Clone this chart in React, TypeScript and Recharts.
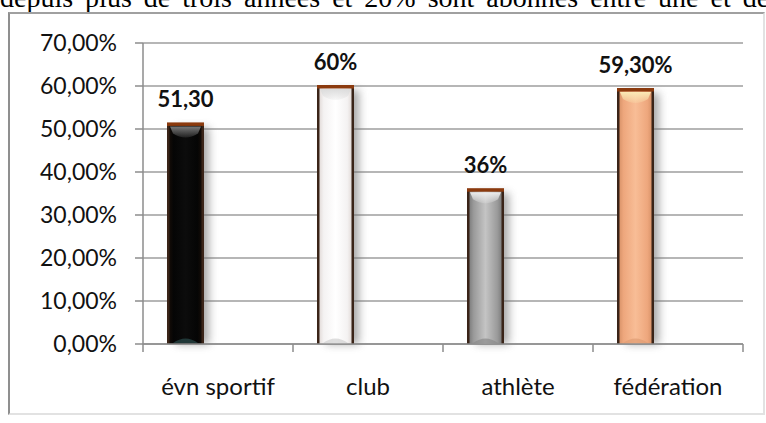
import React from 'react';
import { BarChart, Bar, XAxis, YAxis, CartesianGrid, LabelList } from 'recharts';

// Chart data
const categories = ['évn sportif', 'club', 'athlète', 'fédération'];
const values = [51.3, 60, 36, 59.3];
const valueLabels = ['51,30', '60%', '36%', '59,30%'];
const yTicks = [0, 10, 20, 30, 40, 50, 60, 70];

const data = categories.map((name, i) => ({ name, value: values[i], label: valueLabels[i] }));

// Cylinder-like palettes for each bar
const palettes = [
  { edge: '#1a0f08', mid: '#050505', center: '#0c0c0c', bevel: '#7a7a7a', foot: '#2a4a4a' },
  { edge: '#d9cfcb', mid: '#f4f2f2', center: '#ffffff', bevel: '#dcdcdc', foot: '#d0d0d0' },
  { edge: '#6f6f6f', mid: '#9a9a9a', center: '#c4c4c4', bevel: '#eeeeee', foot: '#8a8a8a' },
  { edge: '#cf8a60', mid: '#eea77d', center: '#f8bd96', bevel: '#fbeab6', foot: '#e09c74' },
];

const FONT = 'Lato, "Open Sans", sans-serif';
const CHART_W = 766;
const CHART_H = 423;
const MARGIN = { top: 43, right: 23, bottom: 0, left: 0 };
const Y_AXIS_W = 143;
const X_AXIS_H = 79;
const PLOT_W = CHART_W - MARGIN.left - MARGIN.right - Y_AXIS_W;
const HALF_BAND = PLOT_W / categories.length / 2;
const BAR_SIZE = 37;
const BAR_SHIFT = 33; // bars sit left of the category centre
const LABEL_GAP = 16;

function CylinderBar(props: any) {
  const { x, y, width, height, index } = props;
  const p = palettes[index % palettes.length];
  const bx = x - BAR_SHIFT;
  const w = width;
  const id = `cyl${index}`;
  return (
    <g>
      <defs>
        <linearGradient id={`${id}body`} x1="0" y1="0" x2="1" y2="0">
          <stop offset="0" stopColor={p.edge} />
          <stop offset="0.18" stopColor={p.mid} />
          <stop offset="0.5" stopColor={p.center} />
          <stop offset="0.82" stopColor={p.mid} />
          <stop offset="1" stopColor={p.edge} />
        </linearGradient>
        <linearGradient id={`${id}bevel`} x1="0" y1="0" x2="0" y2="1">
          <stop offset="0" stopColor={p.bevel} stopOpacity="1" />
          <stop offset="1" stopColor={p.bevel} stopOpacity="0.2" />
        </linearGradient>
        <filter id={`${id}shadow`} x="-60%" y="-10%" width="220%" height="120%">
          <feGaussianBlur stdDeviation="4" />
        </filter>
      </defs>
      {/* soft drop shadow on the right */}
      <rect x={bx + 9} y={y + 4} width={w - 4} height={height - 4} fill="#707070" opacity={0.6} filter={`url(#${id}shadow)`} />
      {/* body */}
      <rect x={bx} y={y} width={w} height={height} fill={`url(#${id}body)`} />
      {/* top bevel highlight */}
      <path
        d={`M${bx + 3},${y + 3} L${bx + w - 3},${y + 3} L${bx + w - 6},${y + 10} Q${bx + w / 2},${y + 18} ${bx + 6},${y + 10} Z`}
        fill={`url(#${id}bevel)`}
      />
      {/* foot highlight */}
      <path
        d={`M${bx + 6},${y + height - 1} Q${bx + w / 2},${y + height - 10} ${bx + w - 6},${y + height - 1} Z`}
        fill={p.foot}
        opacity={0.7}
      />
      {/* dark side edges */}
      <rect x={bx} y={y} width={2.5} height={height} fill="#3a2418" />
      <rect x={bx + w - 2.5} y={y} width={2.5} height={height} fill="#3a2418" />
      {/* brown top cap */}
      <rect x={bx} y={y - 1} width={w} height={3.5} fill="#8b3a0e" />
    </g>
  );
}

function ValueLabel(props: any) {
  const { x, y, width, index } = props;
  return (
    <text
      x={x - BAR_SHIFT + width / 2}
      y={y - LABEL_GAP}
      textAnchor="middle"
      fontFamily={FONT}
      fontWeight={700}
      fontSize={22}
      fill="#111"
    >
      {valueLabels[index]}
    </text>
  );
}

function CategoryTick(props: any) {
  const { x, y, payload, index } = props;
  const axisY = y - 8;
  const last = index === categories.length - 1;
  return (
    <g>
      <line x1={x - HALF_BAND} y1={axisY} x2={x - HALF_BAND} y2={axisY + 8} stroke="#8c8c8c" strokeWidth={1.5} />
      {last && (
        <line x1={x + HALF_BAND} y1={axisY} x2={x + HALF_BAND} y2={axisY + 8} stroke="#8c8c8c" strokeWidth={1.5} />
      )}
      <text x={x} y={y + 43} textAnchor="middle" fontFamily={FONT} fontSize={24} fill="#111">
        {payload.value}
      </text>
    </g>
  );
}

const formatPercent = (v: number) => `${v},00%`;

export default function App() {
  return (
    <div style={{ position: 'fixed', left: 0, top: 0, width: CHART_W, height: CHART_H, background: '#fff', overflow: 'hidden' }}>
      <div
        style={{
          position: 'absolute',
          left: 0,
          top: -16,
          fontFamily: '"Liberation Serif", "Times New Roman", serif',
          fontSize: 28,
          lineHeight: '28px',
          wordSpacing: 5,
          whiteSpace: 'nowrap',
          color: '#000',
        }}
      >
        depuis plus de trois années et 20% sont abonnés entre une et deux
      </div>
      <div
        style={{
          position: 'absolute',
          left: 8,
          top: 12,
          width: 753,
          height: 399,
          background: '#fff',
          borderLeft: '2px solid #8f8f8f',
          borderTop: '2px solid #a0a0a0',
          borderRight: '2px solid #e2e2e2',
          borderBottom: '2px solid #e2e2e2',
        }}
      />
      <div style={{ position: 'absolute', left: 0, top: 0 }}>
        <BarChart width={CHART_W} height={CHART_H} data={data} margin={MARGIN} barSize={BAR_SIZE}>
          <CartesianGrid vertical={false} stroke="#9e9e9e" strokeWidth={1.5} />
          <XAxis
            dataKey="name"
            height={X_AXIS_H}
            tickLine={false}
            axisLine={{ stroke: '#8c8c8c', strokeWidth: 1.5 }}
            tick={<CategoryTick />}
            interval={0}
          />
          <YAxis
            width={Y_AXIS_W}
            domain={[0, 70]}
            ticks={yTicks}
            tickFormatter={formatPercent}
            tickSize={8}
            tickMargin={18}
            tickLine={{ stroke: '#8c8c8c', strokeWidth: 1.5 }}
            axisLine={{ stroke: '#8c8c8c', strokeWidth: 1.5 }}
            tick={{ fontFamily: FONT, fontSize: 23, fill: '#111' }}
          />
          <Bar dataKey="value" shape={<CylinderBar />} isAnimationActive={false}>
            <LabelList dataKey="label" content={<ValueLabel />} />
          </Bar>
        </BarChart>
      </div>
    </div>
  );
}
